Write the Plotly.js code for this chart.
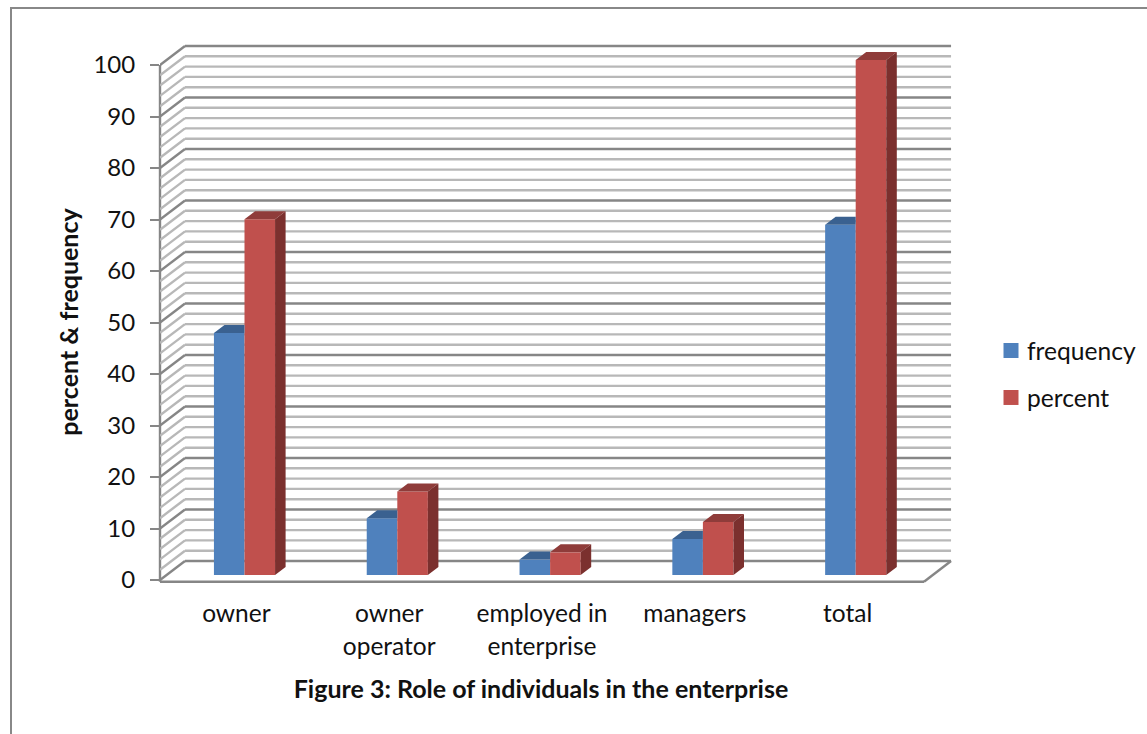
<!DOCTYPE html>
<html>
<head>
<meta charset="utf-8">
<script src="https://cdn.plot.ly/plotly-3.0.1.min.js"></script>
<style>html,body{margin:0;padding:0;background:#fff;overflow:hidden}</style>
</head>
<body>
<div id="chart" style="width:1147px;height:734px"></div>
<script>
// Role of individuals in the enterprise
const categoryFirstLines = ['owner', 'owner', 'employed in', 'managers', 'total'];
const categorySecondLines = ['', 'operator', 'enterprise', '', ''];
const frequency = [47, 11, 3, 7, 68];
const percent = [69.1, 16.2, 4.4, 10.3, 100];
const valueTicks = [0, 10, 20, 30, 40, 50, 60, 70, 80, 90, 100];
const minorGrid = [2, 4, 6, 8, 12, 14, 16, 18, 22, 24, 26, 28, 32, 34, 36, 38, 42, 44, 46, 48, 52, 54, 56, 58,
  62, 64, 66, 68, 72, 74, 76, 78, 82, 84, 86, 88, 92, 94, 96, 98];

const BLUE = '#4F81BD', BLUE_TOP = '#3A6190';
const RED = '#C0504D', RED_TOP = '#8F3C3A', RED_SIDE = '#7B302E';
const MAJOR = '#868686', MINOR = '#B8B8B8';

// Pseudo-3D projection, in axis units
const WALL_DX = 0.1636, WALL_DY = 3.69;   // depth of the chart box
const BAR_DX = 0.069, BAR_DY = 1.55;      // depth of a column
const BAR_BASE = 0.97;                    // columns stand partway into the floor
const BAR_W = 0.2, GROUP_SHIFT = 0.053;   // column width and its offset from the band centre
const X_MIN = -0.5, X_WALL = 4.677, X_MAX = 4.7356, X_FLOOR = 4.5;
const FLOOR_FRONT = -0.33;

const xPos = frequency.map((_, i) => i);

// Walls and floor go under the columns
function seg(x0, y0, x1, y1, color, width) {
  return {type: 'line', layer: 'below', xref: 'x', yref: 'y', x0, y0, x1, y1,
    line: {color, width: width || 2.4}};
}
const shapes = [];
[[minorGrid, MINOR], [valueTicks, MAJOR]].forEach(([levels, color]) => {
  levels.forEach(v => {
    shapes.push(seg(X_MIN, v, X_MIN + WALL_DX, v + WALL_DY, color));
    shapes.push(seg(X_MIN + WALL_DX, v + WALL_DY, X_WALL, v + WALL_DY, color));
  });
});
shapes.push(seg(X_MIN, FLOOR_FRONT, X_FLOOR, FLOOR_FRONT, MAJOR));
shapes.push(seg(X_FLOOR, FLOOR_FRONT, X_WALL, WALL_DY, MAJOR));
shapes.push({type: 'line', layer: 'below', xref: 'paper', yref: 'y', x0: 0, x1: 0, y0: FLOOR_FRONT, y1: 100,
  line: {color: MAJOR, width: 2.4}});

// Outer frame around the figure
const PL = 160, PT = 44, PW = 800, PH = 556;
const fx = px => (px - PL) / PW, fy = py => 1 - (py - PT) / PH;
const framePath = `M ${fx(11)} ${fy(740)} L ${fx(11)} ${fy(8)} L ${fx(1150)} ${fy(8)}`;
shapes.push({type: 'path', xref: 'paper', yref: 'paper', path: framePath, line: {color: '#888888', width: 2}});

// Polygons for the visible top and side faces, separated by nulls
function faces(values, left, makePoly) {
  const xs = [], ys = [];
  values.forEach((v, i) => {
    makePoly(i + GROUP_SHIFT + left, v + BAR_BASE).forEach(p => { xs.push(p[0]); ys.push(p[1]); });
    xs.push(null); ys.push(null);
  });
  return {x: xs, y: ys};
}
function faceTrace(poly, color) {
  return {type: 'scatter', mode: 'lines', x: poly.x, y: poly.y, fill: 'toself', fillcolor: color,
    line: {width: 0, color}, hoverinfo: 'skip', showlegend: false};
}
// Frequency columns butt against the percent columns, so their top stops at the shared edge
const blueTop = faces(frequency, -BAR_W, (x, t) => [[x, t], [x + BAR_W, t], [x + BAR_W, t + BAR_DY], [x + BAR_DX, t + BAR_DY], [x, t]]);
const redTop = faces(percent, 0, (x, t) => [[x, t], [x + BAR_W, t], [x + BAR_W + BAR_DX, t + BAR_DY], [x + BAR_DX, t + BAR_DY], [x, t]]);
const redSide = faces(percent, 0, (x, t) => [[x + BAR_W, BAR_BASE], [x + BAR_W + BAR_DX, BAR_BASE + BAR_DY], [x + BAR_W + BAR_DX, t + BAR_DY], [x + BAR_W, t], [x + BAR_W, BAR_BASE]]);

const baseArr = frequency.map(() => BAR_BASE);
const traces = [
  {type: 'bar', name: 'frequency', x: xPos, y: frequency, base: baseArr, width: BAR_W, offset: GROUP_SHIFT - BAR_W,
    marker: {color: BLUE}, showlegend: false},
  {type: 'bar', name: 'percent', x: xPos, y: percent, base: baseArr, width: BAR_W, offset: GROUP_SHIFT,
    marker: {color: RED}, showlegend: false},
  faceTrace(blueTop, BLUE_TOP),
  faceTrace(redTop, RED_TOP),
  faceTrace(redSide, RED_SIDE),
  // Legend entries with square swatches
  {type: 'scatter', mode: 'markers', name: 'frequency', legendgroup: 'f', x: [null], y: [null],
    marker: {symbol: 'square', size: 15, color: BLUE}},
  {type: 'scatter', mode: 'markers', name: 'percent', legendgroup: 'p', xaxis: 'x2', x: [null], y: [null],
    marker: {symbol: 'square', size: 15, color: RED}}
];

const FONT = 'Lato, "Open Sans", sans-serif';
const INK = '#111111';
const xAxisBase = {
  type: 'linear', range: [X_MIN, X_MAX], showgrid: false, zeroline: false, showline: false,
  ticks: '', tickmode: 'array', tickvals: xPos, tickfont: {family: FONT, size: 24.5, color: INK}, fixedrange: true
};

const layout = {
  width: 1147, height: 734,
  margin: {l: PL, r: 1147 - PL - PW, t: PT, b: 734 - PT - PH, pad: 0, autoexpand: false},
  paper_bgcolor: '#ffffff', plot_bgcolor: '#ffffff',
  barmode: 'overlay',
  title: {text: 'Figure 3: Role of individuals in the enterprise', x: 541 / 1147, xanchor: 'center',
    y: 1 - 689 / 734, yanchor: 'middle', font: {family: FONT, size: 25, color: INK, weight: 700}},
  xaxis: Object.assign({}, xAxisBase, {ticktext: categoryFirstLines, ticklabelstandoff: -4}),
  xaxis2: Object.assign({}, xAxisBase, {ticktext: categorySecondLines, overlaying: 'x', side: 'bottom', anchor: 'y', ticklabelstandoff: 29}),
  yaxis: {
    range: [-20 / 5.15, 536 / 5.15], tickmode: 'array', tickvals: valueTicks, ticks: 'outside', ticklen: 9, tickwidth: 2,
    tickcolor: MAJOR, showgrid: false, zeroline: false, showline: false, tickfont: {family: FONT, size: 24, color: INK}, ticklabelstandoff: 10,
    fixedrange: true,
    title: {text: 'percent & frequency', standoff: 7, font: {family: FONT, size: 25, color: INK, weight: 700}}
  },
  legend: {x: fx(987), xanchor: 'left', y: fy(328), yanchor: 'top', tracegroupgap: 12,
    font: {family: FONT, size: 24.6, color: INK}, bgcolor: 'rgba(0,0,0,0)', itemclick: false, itemdoubleclick: false},
  shapes
};

Plotly.newPlot('chart', traces, layout, {displayModeBar: false, staticPlot: true}).then(() => {
  // Bring the swatches closer to their labels
  document.querySelectorAll('#chart .legendsymbols').forEach(g => g.setAttribute('transform', 'translate(4,0)'));
});
</script>
</body>
</html>
